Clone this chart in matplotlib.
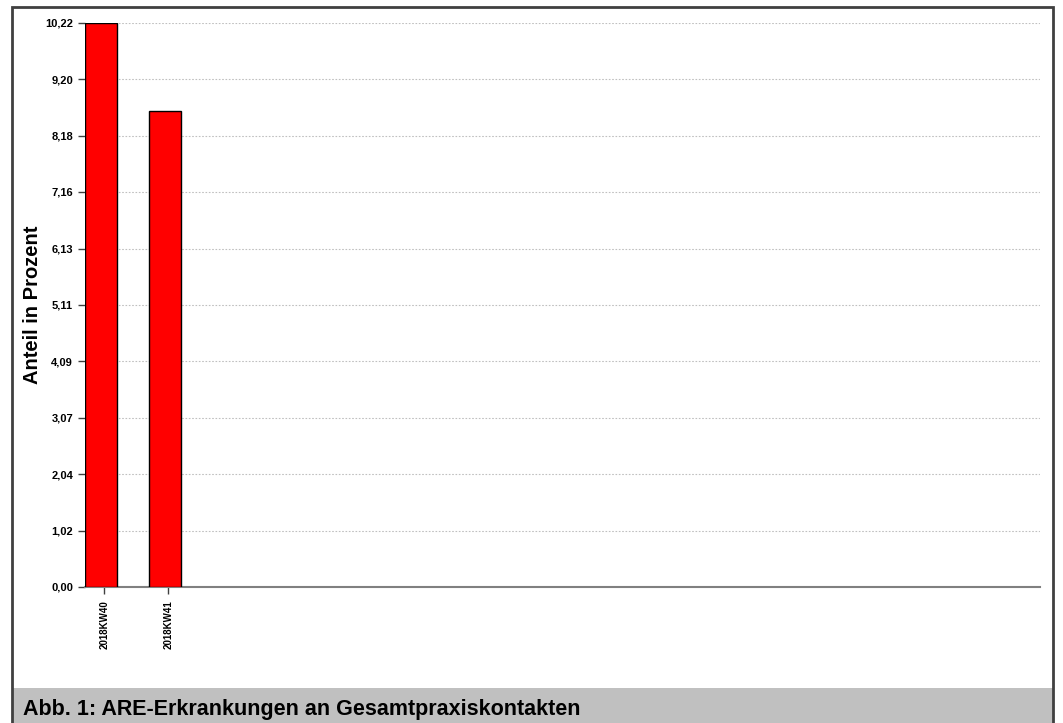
import matplotlib
matplotlib.use("Agg")
import matplotlib.pyplot as plt
from matplotlib.patches import Rectangle

categories = ["2018KW40", "2018KW41"]
values = [10.22, 8.62]
yticks = [0.00, 1.02, 2.04, 3.07, 4.09, 5.11, 6.13, 7.16, 8.18, 9.20, 10.22]
ytick_labels = ["0,00", "1,02", "2,04", "3,07", "4,09", "5,11", "6,13", "7,16", "8,18", "9,20", "10,22"]
title = "Abb. 1: ARE-Erkrankungen an Gesamtpraxiskontakten"
ylabel = "Anteil in Prozent"

plt.rcParams['font.family'] = ['Liberation Sans', 'DejaVu Sans']

W, H = 1063, 723
fig = plt.figure(figsize=(W / 100, H / 100), dpi=100)

# footer band
fig.patches.append(Rectangle((13 / W, 0), (1053 - 13) / W, (H - 688) / H,
                             transform=fig.transFigure, facecolor="#c0c0c0",
                             edgecolor="none", zorder=0))
# outer border
fig.patches.append(Rectangle((12 / W, -0.01), (1053 - 12) / W, (H - 7) / H + 0.01,
                             transform=fig.transFigure, facecolor="none",
                             edgecolor="#404040", linewidth=2, zorder=1))
fig.text(23 / W, 1 - 710 / H, title, fontsize=15.5, fontweight="bold",
         va="center", ha="left", color="black")

left, right, top, bottom = 85, 1040, 23, 587
ax = fig.add_axes([left / W, 1 - bottom / H, (right - left) / W, (bottom - top) / H])
x = list(range(len(categories)))
ax.bar(x, values, width=0.5, color="#ff0000", edgecolor="black", linewidth=1, zorder=3)
ax.set_xlim(-0.25, 14.67)
ax.set_ylim(0, 10.22)
ax.set_yticks(yticks)
ax.set_yticklabels(ytick_labels, fontsize=8, fontweight="bold")
ax.set_xticks([i + 0.05 for i in x])
ax.set_xticklabels(categories, rotation=90, fontsize=7, fontweight="bold")
ax.tick_params(axis="y", length=5, width=1, color="#404040", pad=3.6)
ax.tick_params(axis="x", length=5, width=1, color="#404040", pad=4.5)
for s in ["left", "right", "top"]:
    ax.spines[s].set_visible(False)
ax.spines["bottom"].set_color("#808080")
ax.spines["bottom"].set_linewidth(1.5)
ax.spines["bottom"].set_zorder(2)
ax.grid(axis="y", color="#c0c0c0", linestyle=(0, (1.5, 1.5)), linewidth=0.8, zorder=0)
ax.set_axisbelow(True)

fig.text(33 / W, 1 - 305 / H, ylabel, fontsize=14.5, fontweight="bold",
         rotation=90, ha="center", va="center", color="black")

fig.savefig("out.png", dpi=100)
